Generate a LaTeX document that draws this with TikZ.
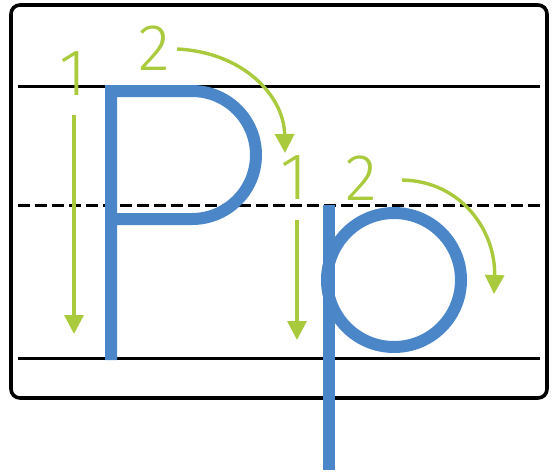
\documentclass[tikz,border=0pt]{standalone}
\usepackage{fontspec}
\newfontfamily\digitfont{Fira Sans Light}
\usetikzlibrary{arrows.meta}
\definecolor{letterblue}{RGB}{74,134,200}
\definecolor{guidegreen}{RGB}{170,202,62}
\tikzset{
  frame/.style={draw=black, line width=3.6pt, rounded corners=9pt},
  ruleline/.style={draw=black, line width=3pt},
  midline/.style={draw=black, line width=3pt, dash pattern=on 12pt off 5pt},
  letter/.style={draw=letterblue, line width=12pt, line join=miter},
  guide/.style={draw=guidegreen, line width=3.4pt, -{Triangle[width=19pt,length=19pt]}},
  digit/.style={text=guidegreen, font=\digitfont\fontsize{66}{66}\selectfont, inner sep=0pt}
}
\begin{document}
\begin{tikzpicture}[x=1pt, y=-1pt]
\useasboundingbox (0,0) rectangle (558,475);
% frame and ruling
\draw[frame] (11,5) rectangle (547,398);
\coordinate (tl) at (18,86);  \coordinate (tr) at (540,86);
\coordinate (ml) at (18,205); \coordinate (mr) at (540,205);
\coordinate (bl) at (18,358); \coordinate (br) at (540,358);
\draw[ruleline] (tl) -- (tr);
\draw[midline] (ml) -- (mr);
\draw[ruleline] (bl) -- (br);
% letter P
\draw[letter] (111,360) -- (111,91) -- (192,91) arc[start angle=-90, end angle=90, radius=64] -- (111,219);
% letter p
\draw[letter] (329,205) -- (329,470);
\draw[letter] (394,280) circle[radius=67];
% stroke order digits
\node[digit] (n1a) at (73,74) {1};
\node[digit] (n2a) at (154,48) {2};
\node[digit] (n1b) at (294,178) {1};
\node[digit] (n2b) at (361,178) {2};
% guide arrows
\coordinate (a1s) at (74,115);  \coordinate (a1e) at (74,334);
\coordinate (a2s) at (177,49);  \coordinate (a2e) at (285,153);
\coordinate (a3s) at (297,220); \coordinate (a3e) at (297,340);
\coordinate (a4s) at (402,180); \coordinate (a4e) at (494,294);
\draw[guide] (a1s) -- (a1e);
\draw[guide] (a2s) .. controls (242,52) and (284,95) .. (a2e);
\draw[guide] (a3s) -- (a3e);
\draw[guide] (a4s) .. controls (462,181) and (496,232) .. (a4e);
\end{tikzpicture}
\end{document}
